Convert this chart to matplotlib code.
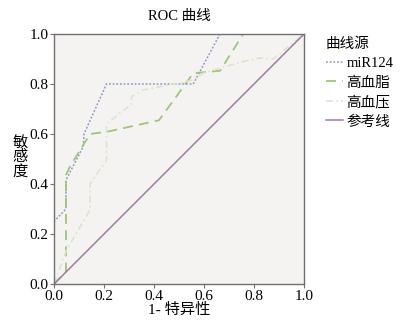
import numpy as np
from matplotlib import pyplot as plt

plt.rcParams['font.family'] = ['Liberation Serif', 'Noto Sans CJK SC']

# 曲线点 (1-特异性, 敏感度)
mir_x = [0.0, 0.0, 0.048, 0.048, 0.117, 0.12, 0.21, 0.557, 0.664, 1.0]
mir_y = [0.0, 0.25, 0.30, 0.416, 0.55, 0.60, 0.80, 0.80, 1.0, 1.0]

lip_x = [0.0, 0.048, 0.048, 0.064, 0.117, 0.144, 0.217, 0.42, 0.557, 0.664, 0.757, 1.0]
lip_y = [0.0, 0.05, 0.436, 0.47, 0.556, 0.60, 0.61, 0.655, 0.843, 0.853, 1.0, 1.0]

bp_x = [0.0, 0.05, 0.144, 0.144, 0.21, 0.21, 0.31, 0.31, 0.357, 0.557, 0.60, 0.757, 0.824, 0.877, 1.0]
bp_y = [0.0, 0.136, 0.296, 0.40, 0.496, 0.64, 0.72, 0.75, 0.776, 0.816, 0.845, 0.89, 0.904, 0.90, 1.0]

ref_x = [0.0, 1.0]
ref_y = [0.0, 1.0]

ticks = [0.0, 0.2, 0.4, 0.6, 0.8, 1.0]

fig = plt.figure(figsize=(4.08, 3.26), dpi=100)
ax = fig.add_axes([54 / 408, 42 / 326, 250 / 408, 250 / 326])
ax.set_facecolor('#f4f3f1')

ax.plot(mir_x, mir_y, color='#8c9ac4', linestyle=(0, (1.2, 1.2)), linewidth=1.1, label='miR124')
ax.plot(lip_x, lip_y, color='#a0c47c', linestyle=(0, (5.5, 3.5)), linewidth=1.3, label='高血脂')
ax.plot(bp_x, bp_y, color='#dde4cb', linestyle=(0, (4, 2, 1, 2)), linewidth=1.2, label='高血压')
ax.plot(ref_x, ref_y, color='#a07aa4', linestyle='-', linewidth=1.1, label='参考线')

ax.set_xlim(0, 1)
ax.set_ylim(0, 1)
ax.set_xticks(ticks)
ax.set_yticks(ticks)
ax.set_xticklabels(['%.1f' % t for t in ticks])
ax.set_yticklabels(['%.1f' % t for t in ticks])
ax.tick_params(direction='out', length=3, width=0.8, color='#707070', labelsize=11, pad=1)
for s in ax.spines.values():
    s.set_color('#707070')
    s.set_linewidth(1.0)

ax.set_title('ROC 曲线', fontsize=10.5, pad=10)
ax.set_xlabel('1- 特异性', fontsize=11, labelpad=0)
fig.text(20 / 408, 1 - 157 / 326, '敏\n感\n度', fontsize=11, ha='center', va='center', linespacing=1.05)

leg = ax.legend(loc='upper left', bbox_to_anchor=(320 / 408, 1 - 32 / 326), bbox_transform=fig.transFigure,
                frameon=False, title='曲线源', fontsize=10.5, title_fontsize=10.5,
                handlelength=1.2, handletextpad=0.2, labelspacing=0.4, borderaxespad=0)
leg._legend_box.align = 'left'

fig.savefig('out.png', dpi=100)
